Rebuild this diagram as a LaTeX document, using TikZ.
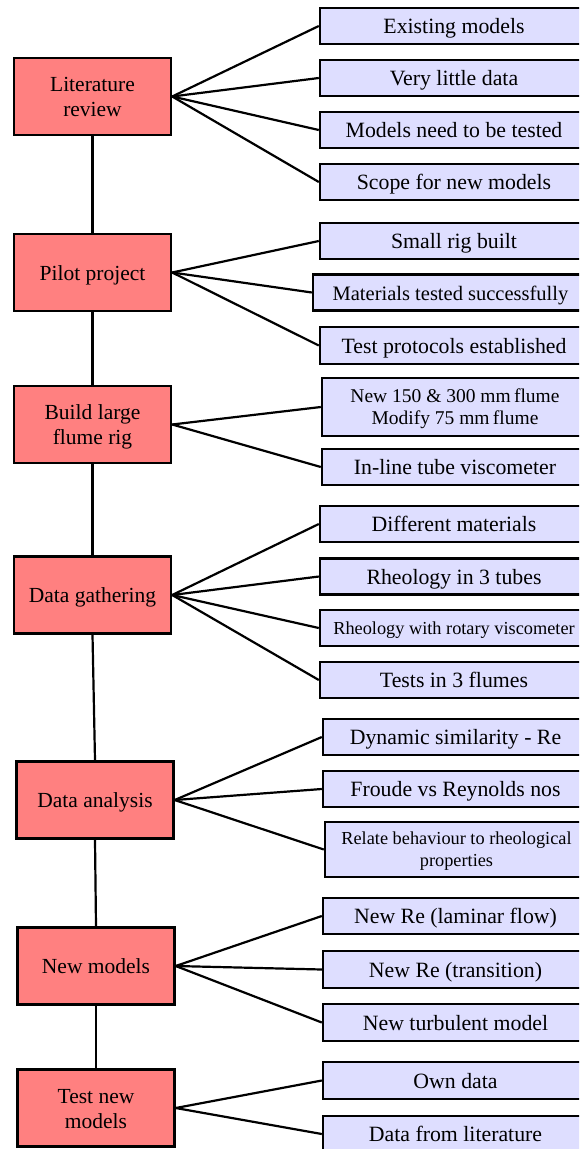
\documentclass[tikz,border=0pt]{standalone}
\usepackage{fontspec}
\setmainfont{Liberation Serif}
\begin{document}
\begin{tikzpicture}[x=1pt,y=-1pt,
  stage/.style={draw=black,line width=2.4pt,fill=red!50,minimum width=157pt,minimum height=77pt,inner sep=0pt,align=center,text height=15pt,text depth=0pt,font=\fontsize{21.5}{25}\selectfont},
  item/.style={draw=black,line width=2.4pt,fill=blue!13,minimum height=36pt,inner sep=0pt,align=center,text height=15pt,text depth=0pt,font=\fontsize{21.8}{25}\selectfont},
  two/.style={text height=40pt,text depth=0pt},
  small/.style={font=\fontsize{18.3}{22}\selectfont},
  link/.style={draw=black,line width=2.2pt}]
\useasboundingbox (0,0) rectangle (579,1149);
\clip (0,0) rectangle (579,1149);
% stages
\node[stage,two] (s1) at (92.5,96.5) {Literature\\review};
\node[stage] (s2) at (92.5,272.5) {Pilot project};
\node[stage,two] (s3) at (92.5,424.5) {Build large\\flume rig};
\node[stage] (s4) at (92.5,595) {Data gathering};
\node[stage] (s5) at (95,800) {Data analysis};
\node[stage] (s6) at (96,966) {New models};
\node[stage,two] (s7) at (96,1108) {Test new\\models};
% group 1
\node[item,minimum width=268pt] (a1) at (454,26) {Existing models};
\node[item,minimum width=268pt] (a2) at (454,78) {Very little data};
\node[item,minimum width=268pt] (a3) at (454,130) {Models need to be tested};
\node[item,minimum width=268pt] (a4) at (454,182) {Scope for new models};
% group 2
\node[item,minimum width=268pt] (b1) at (454,241) {Small rig built};
\node[item,minimum width=275pt,font=\fontsize{20.5}{24}\selectfont] (b2) at (450.5,292.5) {Materials tested successfully};
\node[item,minimum width=268pt,minimum height=37pt] (b3) at (454,345.5) {Test protocols established};
% group 3
\node[item,text height=34pt,text depth=0pt,minimum width=266pt,minimum height=58pt,font=\fontsize{19.5}{22}\selectfont] (c1) at (455,407) {New 150 \& 300 mm\,flume\\Modify 75 mm\,flume};
\node[item,minimum width=266pt] (c2) at (455,467) {In-line tube viscometer};
% group 4
\node[item,minimum width=268pt] (d1) at (454,524) {Different materials};
\node[item,minimum width=268pt] (d2) at (454,576.5) {Rheology in 3 tubes};
\node[item,minimum width=268pt,small,text height=13pt] (d3) at (454,628) {Rheology with rotary viscometer};
\node[item,minimum width=268pt] (d4) at (454,680) {Tests in 3 flumes};
% group 5
\node[item,minimum width=265pt] (e1) at (455.5,737) {Dynamic similarity - Re};
\node[item,minimum width=265pt] (e2) at (455.5,789) {Froude vs Reynolds nos};
\node[item,text height=33pt,text depth=0pt,minimum width=263pt,minimum height=55pt,small] (e3) at (456.5,849.5) {Relate behaviour to rheological\\properties};
% group 6
\node[item,minimum width=265pt] (f1) at (455.5,916) {New Re (laminar flow)};
\node[item,minimum width=265pt,minimum height=37pt] (f2) at (455.5,969.5) {New Re (transition)};
\node[item,minimum width=265pt,minimum height=37pt] (f3) at (455.5,1022.5) {New turbulent model};
% group 7
\node[item,minimum width=265pt,minimum height=37pt] (g1) at (455.5,1080.5) {Own data};
\node[item,minimum width=265pt] (g2) at (455.5,1134) {Data from literature};
% spine
\draw[link] (s1.south) -- (s2.north);
\draw[link] (s2.south) -- (s3.north);
\draw[link] (s3.south) -- (s4.north);
\draw[link] (s4.south) -- (s5.north);
\draw[link] (s5.south) -- (s6.north);
\draw[link] (s6.south) -- (s7.north);
% branches
\foreach \t in {a1,a2,a3,a4} \draw[link] (s1.east) -- (\t.west);
\foreach \t in {b1,b2,b3} \draw[link] (s2.east) -- (\t.west);
\foreach \t in {c1,c2} \draw[link] (s3.east) -- (\t.west);
\foreach \t in {d1,d2,d3,d4} \draw[link] (s4.east) -- (\t.west);
\foreach \t in {e1,e2,e3} \draw[link] (s5.east) -- (\t.west);
\foreach \t in {f1,f2,f3} \draw[link] (s6.east) -- (\t.west);
\foreach \t in {g1,g2} \draw[link] (s7.east) -- (\t.west);
\end{tikzpicture}
\end{document}
